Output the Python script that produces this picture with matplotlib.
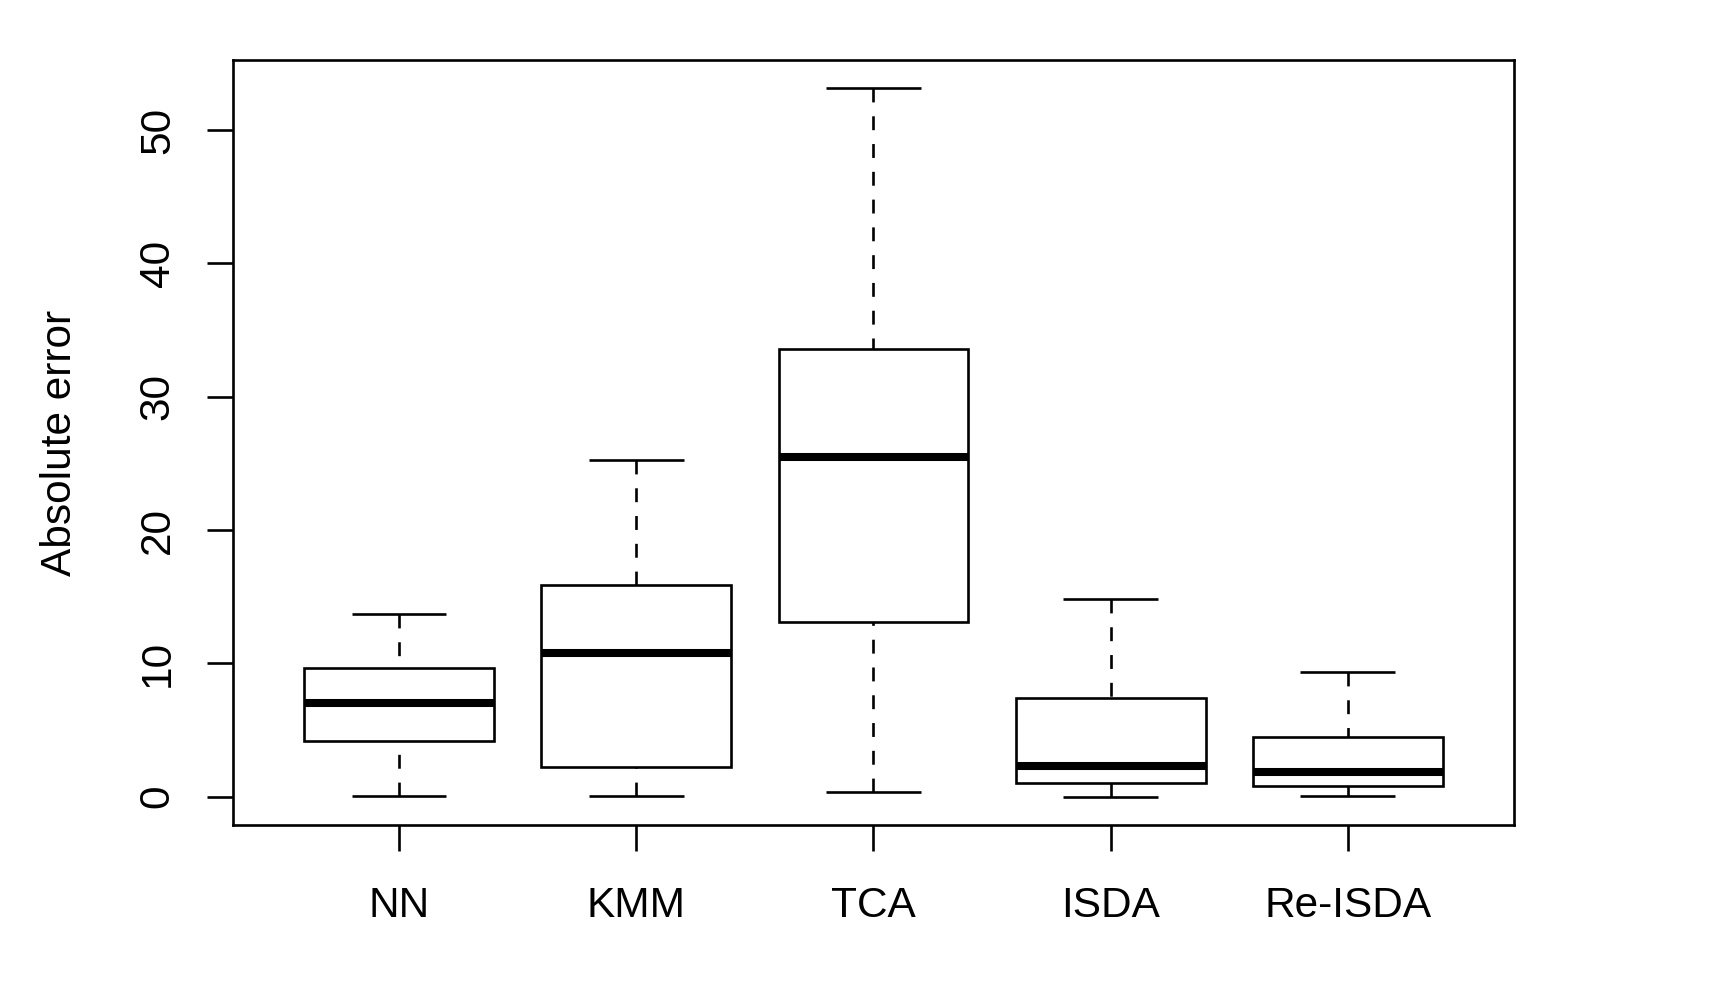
import matplotlib
matplotlib.use("Agg")
import matplotlib.pyplot as plt
from matplotlib.patches import Rectangle
import numpy as np

plt.rcParams['font.family'] = ['Liberation Sans', 'DejaVu Sans']
plt.rcParams['lines.scale_dashes'] = False

# five-number summaries
methods = ['NN', 'KMM', 'TCA', 'ISDA', 'Re-ISDA']
whisker_low = [0.03, 0.08, 0.33, 0.0, 0.03]
q1 = [4.2, 2.2, 13.1, 1.0, 0.83]
median = [7.03, 10.8, 25.45, 2.3, 1.83]
q3 = [9.63, 15.85, 33.55, 7.38, 4.48]
whisker_high = [13.73, 25.25, 53.13, 14.83, 9.38]

lw = 1.9
box_w = 0.8
cap_w = 0.4
fs = 30.5

fig = plt.figure(figsize=(17.12, 9.86), dpi=100)
ax = fig.add_axes([233/1712, 1 - 825/986, (1514 - 233)/1712, (825 - 60)/986])

for i, name in enumerate(methods):
	x = i + 1
	# whiskers, drawn from the cap towards the box like R does
	ax.plot([x, x], [whisker_low[i], q1[i]], color='k', lw=lw,
			linestyle=(0, (10, 10)), solid_capstyle='butt', dash_capstyle='butt')
	ax.plot([x, x], [whisker_high[i], q3[i]], color='k', lw=lw,
			linestyle=(0, (10, 10)), solid_capstyle='butt', dash_capstyle='butt')
	# caps
	ax.plot([x - cap_w/2, x + cap_w/2], [whisker_low[i]]*2, color='k', lw=lw, solid_capstyle='butt')
	ax.plot([x - cap_w/2, x + cap_w/2], [whisker_high[i]]*2, color='k', lw=lw, solid_capstyle='butt')
	# box
	ax.add_patch(Rectangle((x - box_w/2, q1[i]), box_w, q3[i] - q1[i],
			facecolor='white', edgecolor='k', lw=lw, zorder=3, joinstyle='miter'))
	# median
	ax.plot([x - box_w/2, x + box_w/2], [median[i]]*2, color='k', lw=5.8,
			solid_capstyle='butt', zorder=4)

lo = min(whisker_low)
hi = max(whisker_high)
pad = (hi - lo) * 0.04
ax.set_ylim(lo - pad, hi + pad)
ax.set_xlim(0.5 - 0.2, len(methods) + 0.5 + 0.2)

ax.set_xticks(range(1, len(methods) + 1))
ax.set_xticklabels(methods, fontsize=fs)
ax.set_yticks([0, 10, 20, 30, 40, 50])
ax.set_yticklabels(['0', '10', '20', '30', '40', '50'], fontsize=fs, rotation=90, va='center')
ax.tick_params(axis='both', direction='out', length=18.7, width=lw, color='k')
ax.tick_params(axis='x', pad=25)
ax.tick_params(axis='y', pad=21)
for s in ax.spines.values():
	s.set_linewidth(lw)

ax.set_ylabel('Absolute error', fontsize=fs, labelpad=42)

fig.savefig('out.png', dpi=100)
